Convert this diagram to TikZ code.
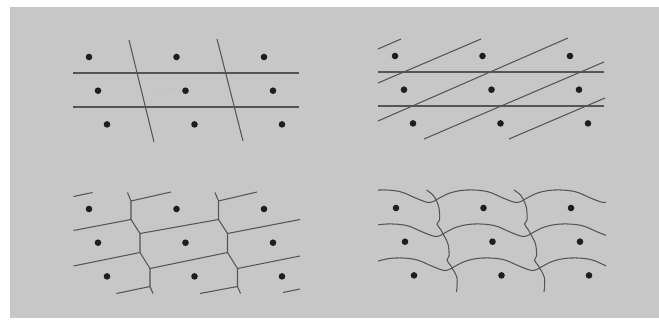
\documentclass[tikz,border=0pt]{standalone}
\usepackage{xcolor}
\definecolor{paper}{RGB}{199,199,199}
\definecolor{ink}{RGB}{85,85,85}
\definecolor{dotc}{RGB}{30,30,30}

\begin{document}
\begin{tikzpicture}[x=0.02cm,y=-0.02cm,
  ln/.style={draw=ink,line width=0.6pt},
  pt/.style={fill=dotc},
  wave/.style={ln,smooth,tension=0.6}]
\useasboundingbox (0,0) rectangle (659,324);
\fill[white] (0,0) rectangle (659,324);
\fill[paper] (10,7) rectangle (659,318);

% lattice points, one set per panel
\foreach \ox/\oy in {89/57,395/56,89/209,396/208}
  \foreach \i in {0,1,2}
    \foreach \j in {0,1,2}
      \fill[pt] ({\ox+87.5*\i+9*\j},{\oy+33.7*\j}) circle[radius=3.3];

% top left: horizontal and steep lines
\draw[ln] (73,73) -- (299,73);
\draw[ln] (73,107) -- (299,107);
\draw[ln] (129,40) -- (154,142);
\draw[ln] (217,39) -- (243,141);
\draw[ln,draw=ink!35] (154,93) -- (177,89);

% top right: horizontal and shallow lines
\draw[ln] (378,72) -- (604,72);
\draw[ln] (378,106) -- (604,106);
\draw[ln] (378,49) -- (401,39);
\draw[ln] (378,83) -- (481,39);
\draw[ln] (378,121) -- (568,38);
\draw[ln] (424,139) -- (604,62);
\draw[ln] (509,139) -- (605,98);

% bottom left: straight cells
\foreach \s in {0,87.5}
  \draw[ln,shift={(\s,0)}] (127.5,192.5) -- (131,201) -- (131,219.5) -- (140,233.5)
    -- (140,252.5) -- (150,268.5) -- (150,286.5) -- (153,293.5);
\draw[ln] (73.5,196.5) -- (92.5,192.5);
\draw[ln] (131,201) -- (171,192);
\draw[ln] (218.5,201) -- (257,192);
\draw[ln] (73.5,230.5) -- (131,219.5);
\draw[ln] (140,233.5) -- (218.5,219.5);
\draw[ln] (227.5,233.5) -- (300,219.5);
\draw[ln] (73.5,266) -- (140,252.5);
\draw[ln] (150,268.5) -- (227.5,252.5);
\draw[ln] (237.5,268.5) -- (300,256);
\draw[ln] (116.5,293.5) -- (150,286.5);
\draw[ln] (200,293.5) -- (237.5,286.5);
\draw[ln] (283,292.5) -- (300,289);

% bottom right: wavy cells
\begin{scope}
  \clip (378,150) rectangle (606,300);
  \foreach \jx/\jy in {436/200,443/234,452/268}
    \foreach \k in {-1,0,1}
      \draw[wave,shift={({\jx+87.5*\k},\jy)}] plot coordinates
        {(0,0) (14,-7) (31,-10) (51,-8.5) (67,-2) (80,2.5) (87.5,0)};
\end{scope}
\foreach \s in {0,87.5}
  \draw[wave,shift={({436+\s},200)}]
    plot coordinates {(-9.5,-10) (-3,-5) (0,0)}
    plot coordinates {(0,0) (3,8) (3.5,20) (1,24) (5,30) (7,34)}
    plot coordinates {(7,34) (12,44) (13,56) (11,60) (15,66) (16,68)}
    plot coordinates {(16,68) (21,78) (20.5,92)};
\end{tikzpicture}
\end{document}
